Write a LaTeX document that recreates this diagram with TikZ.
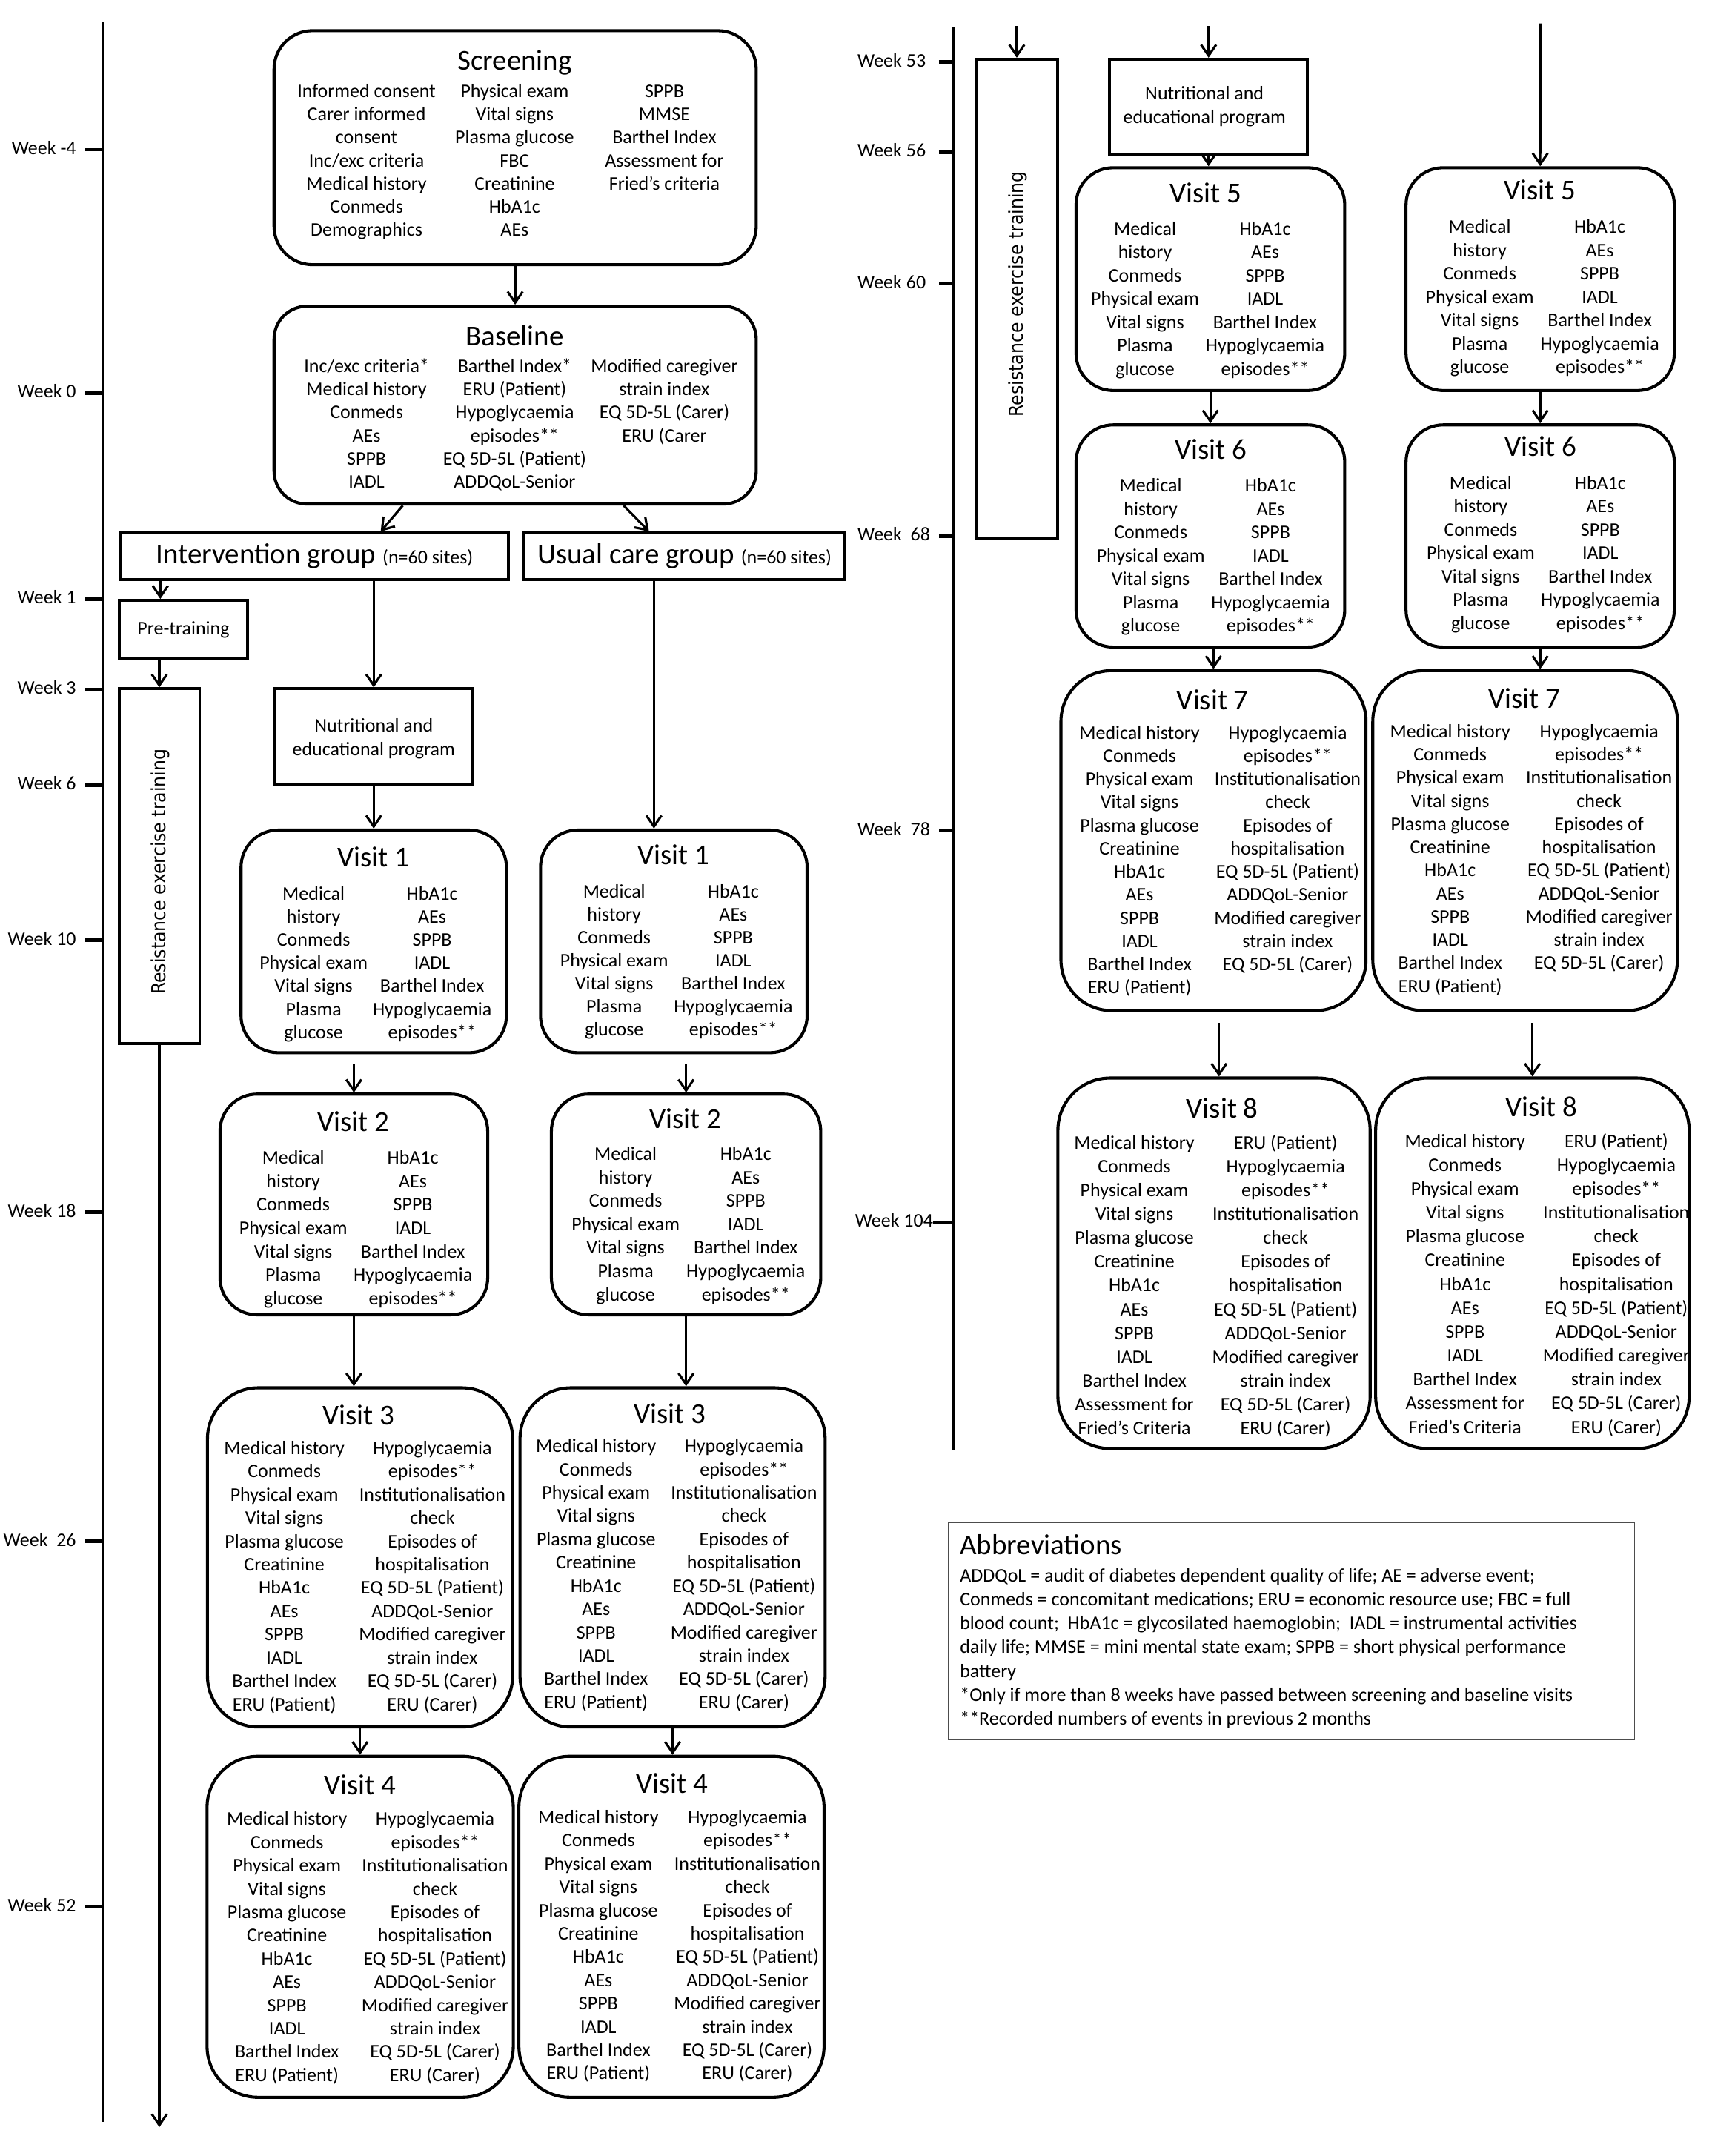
\documentclass[tikz,border=0pt]{standalone}
\usepackage{fontspec}
\setmainfont{Carlito}
\newfontfamily\resfont{DejaVu Sans}
\usetikzlibrary{arrows.meta,fit,calc}
\def\LscrA{Informed consent,Carer informed,consent,Inc/exc criteria,Medical history,Conmeds,Demographics}
\def\LscrB{Physical exam,Vital signs,Plasma glucose,FBC,Creatinine,HbA1c,AEs}
\def\LscrC{SPPB,MMSE,Barthel Index,Assessment for,Fried’s criteria}
\def\LbasA{Inc/exc criteria*,Medical history,Conmeds,AEs,SPPB,IADL}
\def\LbasB{Barthel Index*,ERU (Patient),Hypoglycaemia,episodes**,EQ 5D-5L (Patient),ADDQoL-Senior}
\def\LbasC{Modified caregiver,strain index,EQ 5D-5L (Carer),ERU (Carer}
\def\LsmA{Medical,history,Conmeds,Physical exam,Vital signs,Plasma,glucose}
\def\LsmB{HbA1c,AEs,SPPB,IADL,Barthel Index,Hypoglycaemia,episodes**}
\def\LlgA{Medical history,Conmeds,Physical exam,Vital signs,Plasma glucose,Creatinine,HbA1c,AEs,SPPB,IADL,Barthel Index,ERU (Patient)}
\def\LlgB{Hypoglycaemia,episodes**,Institutionalisation,check,Episodes of,hospitalisation,EQ 5D-5L (Patient),ADDQoL-Senior,Modified caregiver,strain index,EQ 5D-5L (Carer),ERU (Carer)}
\def\LsvB{Hypoglycaemia,episodes**,Institutionalisation,check,Episodes of,hospitalisation,EQ 5D-5L (Patient),ADDQoL-Senior,Modified caregiver,strain index,EQ 5D-5L (Carer)}
\def\LeiA{Medical history,Conmeds,Physical exam,Vital signs,Plasma glucose,Creatinine,HbA1c,AEs,SPPB,IADL,Barthel Index,Assessment for,Fried’s Criteria}
\def\LeiB{ERU (Patient),Hypoglycaemia,episodes**,Institutionalisation,check,Episodes of,hospitalisation,EQ 5D-5L (Patient),ADDQoL-Senior,Modified caregiver,strain index,EQ 5D-5L (Carer),ERU (Carer)}
\newcommand\colm[5]{\foreach \itm [count=\ii] in #5 {\node[txt] (#1-\ii) at (#2,{#3+(\ii-1)*#4}) {\itm};}}
\newcommand\vbx[6]{\node[rbox=#6, fit={(#2,#3) (#4,#5)}] (#1) {};}
\begin{document}
\begin{tikzpicture}[x=1pt,y=-1pt,
  txt/.style={font=\fontsize{14}{17}\selectfont, inner sep=0pt, text height=10pt, text depth=3pt},
  ttl/.style={font=\fontsize{21}{25}\selectfont, inner sep=0pt, text height=14.5pt, text depth=4.5pt},
  wk/.style={font=\fontsize{14}{17}\selectfont, inner sep=0pt, text height=10pt, text depth=3pt},
  rbox/.style={draw, line width=2.2pt, rounded corners=#1, inner sep=0pt},
  sbox/.style={draw, line width=2pt, inner sep=0pt},
  arr/.style={line width=1.7pt, -{Straight Barb[length=8pt,width=11pt]}},
  axis/.style={line width=2.2pt},
  tick/.style={line width=2.6pt},
  rest/.style={rotate=90, inner sep=0pt, font=\resfont\fontsize{14}{17}\selectfont},
]
\fill[white] (0,0) rectangle (1245,1568);
\useasboundingbox (0,0) rectangle (1245,1568);

% ---------- timelines ----------
\draw[axis] (75,16) -- (75,1543);
\draw[axis] (693.6,20) -- (693.6,1055);
\foreach \nm/\lab/\y in {a/{Week -4}/108.9, b/{Week 0}/285.8, c/{Week 1}/435.7, d/{Week 3}/501.3, e/{Week 6}/571, f/{Week 10}/683.9, g/{Week 18}/881.6, h/{Week\ \ 26}/1121, i/{Week 52}/1386.8}
  {\draw[tick] (62,\y) -- (75,\y); \node[wk, anchor=east] (wl\nm) at (55.5,\y) {\lab};}
\foreach \nm/\lab/\y in {a/{Week 53}/45.2, b/{Week 56}/110.7, c/{Week 60}/206.3, d/{Week\ \ 68}/389.9, e/{Week\ \ 78}/604}
  {\draw[tick] (682.8,\y) -- (693.6,\y); \node[wk, anchor=west] (wr\nm) at (623.5,\y) {\lab};}
\draw[tick] (678.5,889) -- (693.6,889);
\node[wk, anchor=west] (wrf) at (621.7,889) {Week 104};

% ---------- Screening ----------
\vbx{scr}{199.3}{22.3}{550}{192.5}{28pt}
\node[ttl] (scr-t) at (374.3,45.8) {Screening};
\colm{sa}{266.6}{67.3}{16.83}{\LscrA}
\colm{sb}{374.3}{67.3}{16.83}{\LscrB}
\colm{sc}{483.2}{67.3}{16.83}{\LscrC}

% ---------- Baseline ----------
\vbx{base}{199.3}{222.7}{550}{366.6}{24pt}
\node[ttl] (base-t) at (374.3,246.2) {Baseline};
\colm{ba}{266.6}{267.3}{16.82}{\LbasA}
\colm{bb}{374.3}{267.3}{16.82}{\LbasB}
\colm{bc}{483.2}{267.3}{16.82}{\LbasC}

% ---------- groups ----------
\node[sbox, fit={(87.9,387.5) (369.6,421.6)}] (intv) {};
\node[inner sep=0pt, font=\fontsize{21}{25}\selectfont] (intv-t) at (intv.center) {Intervention group {\fontsize{14}{17}\selectfont (n=60 sites)}};
\node[sbox, fit={(381,387.5) (614.6,421.6)}] (usual) {};
\node[inner sep=0pt, font=\fontsize{21}{25}\selectfont] (usual-t) at (usual.center) {Usual care group {\fontsize{14}{17}\selectfont (n=60 sites)}};

\node[sbox, fit={(86.6,436.6) (180.2,479.3)}] (pre) {};
\node[txt] (pre-t) at (pre.center) {Pre-training};
\node[sbox, fit={(86.6,500.9) (145.2,758.9)}] (res) {};
\node[rest] (res-t) at (116.5,634) {\scalebox{0.91}[1]{Resistance exercise training}};
\node[sbox, fit={(200,500.9) (343.6,570.4)}] (nut) {};
\node[txt, align=center, text height=, text depth=] (nut-t) at ($(nut.center)+(0,1.5)$) {Nutritional and\\educational program};

% ---------- left visits ----------
\vbx{v1l}{175.3}{603.7}{368.3}{765.6}{27pt}
\node[ttl] (v1l-t) at (271.4,625.4) {Visit 1};
\colm{v1la}{228.1}{651.1}{16.77}{\LsmA}
\colm{v1lb}{314.3}{651.1}{16.77}{\LsmB}
\vbx{v1r}{393.1}{603.7}{587}{765.6}{27pt}
\node[ttl] (v1r-t) at (490,623.6) {Visit 1};
\colm{v1ra}{446.7}{649.4}{16.77}{\LsmA}
\colm{v1rb}{533.3}{649.4}{16.77}{\LsmB}

\vbx{v2l}{160}{795.7}{354.7}{956.2}{27pt}
\node[ttl] (v2l-t) at (257,817.9) {Visit 2};
\colm{v2la}{213.3}{843.1}{17.05}{\LsmA}
\colm{v2lb}{300.3}{843.1}{17.05}{\LsmB}
\vbx{v2r}{401}{795.7}{596.9}{956.2}{27pt}
\node[ttl] (v2r-t) at (498.3,815.5) {Visit 2};
\colm{v2ra}{455}{840.3}{17.05}{\LsmA}
\colm{v2rb}{542.4}{840.3}{17.05}{\LsmB}

\vbx{v3l}{150.9}{1009.3}{372.8}{1256}{37pt}
\node[ttl] (v3l-t) at (260.7,1031.2) {Visit 3};
\colm{v3la}{206.8}{1054.2}{16.94}{\LlgA}
\colm{v3lb}{314.5}{1054.2}{16.94}{\LlgB}
\vbx{v3r}{378.2}{1009.3}{600.1}{1256}{37pt}
\node[ttl] (v3r-t) at (487,1030) {Visit 3};
\colm{v3ra}{433.5}{1052.8}{16.94}{\LlgA}
\colm{v3rb}{541.1}{1052.8}{16.94}{\LlgB}

\vbx{v4l}{150.6}{1277.3}{373.3}{1525.3}{37pt}
\node[ttl] (v4l-t) at (261.9,1300.3) {Visit 4};
\colm{v4la}{208.7}{1324}{16.93}{\LlgA}
\colm{v4lb}{316.4}{1324}{16.93}{\LlgB}
\vbx{v4r}{377.4}{1277.3}{599.3}{1525.3}{37pt}
\node[ttl] (v4r-t) at (488.8,1299) {Visit 4};
\colm{v4ra}{435.2}{1322.7}{16.93}{\LlgA}
\colm{v4rb}{543.6}{1322.7}{16.93}{\LlgB}

% ---------- right column ----------
\node[sbox, fit={(710,43) (769,392)}] (resR) {};
\node[rest] (resR-t) at (740,214) {\scalebox{0.91}[1]{Resistance exercise training}};
\node[sbox, fit={(807,43) (951,112.6)}] (nutR) {};
\node[txt, align=center, text height=, text depth=] (nutR-t) at (876,77.5) {Nutritional and\\educational program};

\vbx{v5l}{782.6}{122}{978}{284}{27pt}
\node[ttl] (v5l-t) at (876.7,142.4) {Visit 5};
\colm{v5la}{832.8}{167.5}{17}{\LsmA}
\colm{v5lb}{920.1}{167.5}{17}{\LsmB}
\vbx{v5r}{1022.6}{122}{1217.7}{284}{27pt}
\node[ttl] (v5r-t) at (1120,140.5) {Visit 5};
\colm{v5ra}{1076.2}{166}{17}{\LsmA}
\colm{v5rb}{1163.5}{166}{17}{\LsmB}

\vbx{v6l}{782.6}{309}{978}{470.6}{27pt}
\node[ttl] (v6l-t) at (880.7,328.8) {Visit 6};
\colm{v6la}{836.9}{354.3}{16.95}{\LsmA}
\colm{v6lb}{924.1}{354.3}{16.95}{\LsmB}
\vbx{v6r}{1022.6}{309}{1217.7}{470.6}{27pt}
\node[ttl] (v6r-t) at (1120.4,327) {Visit 6};
\colm{v6ra}{1076.9}{352.5}{16.95}{\LsmA}
\colm{v6rb}{1163.9}{352.5}{16.95}{\LsmB}

\vbx{v7l}{771.6}{487.7}{993.5}{735}{37pt}
\node[ttl] (v7l-t) at (882,511) {Visit 7};
\colm{v7la}{828.8}{534}{16.84}{\LlgA}
\colm{v7lb}{936.5}{534}{16.84}{\LsvB}
\vbx{v7r}{998.4}{487.7}{1220}{735}{37pt}
\node[ttl] (v7r-t) at (1108.8,510) {Visit 7};
\colm{v7ra}{1054.7}{533}{16.84}{\LlgA}
\colm{v7rb}{1163}{533}{16.84}{\LsvB}

\vbx{v8l}{769.4}{784}{996.5}{1053.5}{38pt}
\node[ttl] (v8l-t) at (889,808) {Visit 8};
\colm{v8la}{825}{832}{17.33}{\LeiA}
\colm{v8lb}{935}{832}{17.33}{\LeiB}
\vbx{v8r}{1000.5}{784}{1228.5}{1053.5}{38pt}
\node[ttl] (v8r-t) at (1121,807) {Visit 8};
\colm{v8ra}{1065.5}{831}{17.33}{\LeiA}
\colm{v8rb}{1175.5}{831}{17.33}{\LeiB}

% ---------- abbreviations ----------
\node[draw=black!70, line width=0.9pt, inner sep=0pt, fit={(690,1107) (1188.8,1265)}] (abbr) {};
\node[ttl, anchor=west] (abbr-t) at (698,1125.4) {Abbreviations};
\foreach \itm [count=\ii] in {{ADDQoL = audit of diabetes dependent quality of life; AE = adverse event;},
  {Conmeds = concomitant medications; ERU = economic resource use; FBC = full},
  {blood count;\ \ HbA1c = glycosilated haemoglobin;\ \ IADL = instrumental activities},
  {daily life; MMSE = mini mental state exam; SPPB = short physical performance},
  {battery},
  {*Only if more than 8 weeks have passed between screening and baseline visits},
  {**Recorded numbers of events in previous 2 months}}
  {\node[txt, anchor=west] (ab-\ii) at (698,{1147.1+(\ii-1)*17.3}) {\itm};}

% ---------- connectors ----------
\draw[arr] (scr) -- (base);
\draw[arr] ([xshift=94.7pt]base.south west) -- ([xshift=190pt]intv.north west);
\draw[arr] ([xshift=255.4pt]base.south west) -- ([xshift=92pt]usual.north west);
\coordinate (pa) at ([xshift=31pt]pre.north west);
\draw[arr] (pa |- intv.south) -- (pa);
\draw[arr] (res.north |- pre.south) -- (res.north);
\coordinate (lend) at (115.9,1547);
\draw[arr] (res.south) -- (lend);
\draw[arr] (nut.north |- intv.south) -- (nut.north);
\draw[arr] (nut.south) -- (nut.south |- v1l.north);
\coordinate (ua) at ([xshift=95.6pt]usual.south west);
\draw[arr] (ua) -- (ua |- v1r.north);
\draw[arr, shorten <=7pt] (v2l.north |- v1l.south) -- (v2l.north);
\draw[arr, shorten <=7pt] (v2r.north |- v1r.south) -- (v2r.north);
\draw[arr] (v2l.south) -- (v2l.south |- v3l.north);
\draw[arr] (v2r.south) -- (v2r.south |- v3r.north);
\draw[arr] (v3l.south) -- (v3l.south |- v4l.north);
\draw[arr] (v3r.south) -- (v3r.south |- v4r.north);

\coordinate (rs1) at (739.5,19);
\draw[arr] (rs1) -- (resR.north);
\coordinate (rs2) at (879,19);
\draw[arr] (rs2) -- (nutR.north);
\coordinate (rs3) at (1120.2,17);
\draw[arr] (rs3) -- (v5r.north);
\draw[arr] (nutR.south) -- (nutR.south |- v5l.north);
\draw[arr] (v5l.south) -- (v5l.south |- v6l.north);
\draw[arr] (v5r.south) -- (v5r.south |- v6r.north);
\draw[arr] (v7l.north |- v6l.south) -- (v7l.north);
\draw[arr] (v6r.south) -- (v6r.south |- v7r.north);
\coordinate (ea) at ([xshift=4pt]v7l.south);
\draw[arr, shorten <=8pt] (ea) -- (ea |- v8l.north);
\draw[arr, shorten <=8pt] (v8r.north |- v7r.south) -- (v8r.north);
\end{tikzpicture}
\end{document}
